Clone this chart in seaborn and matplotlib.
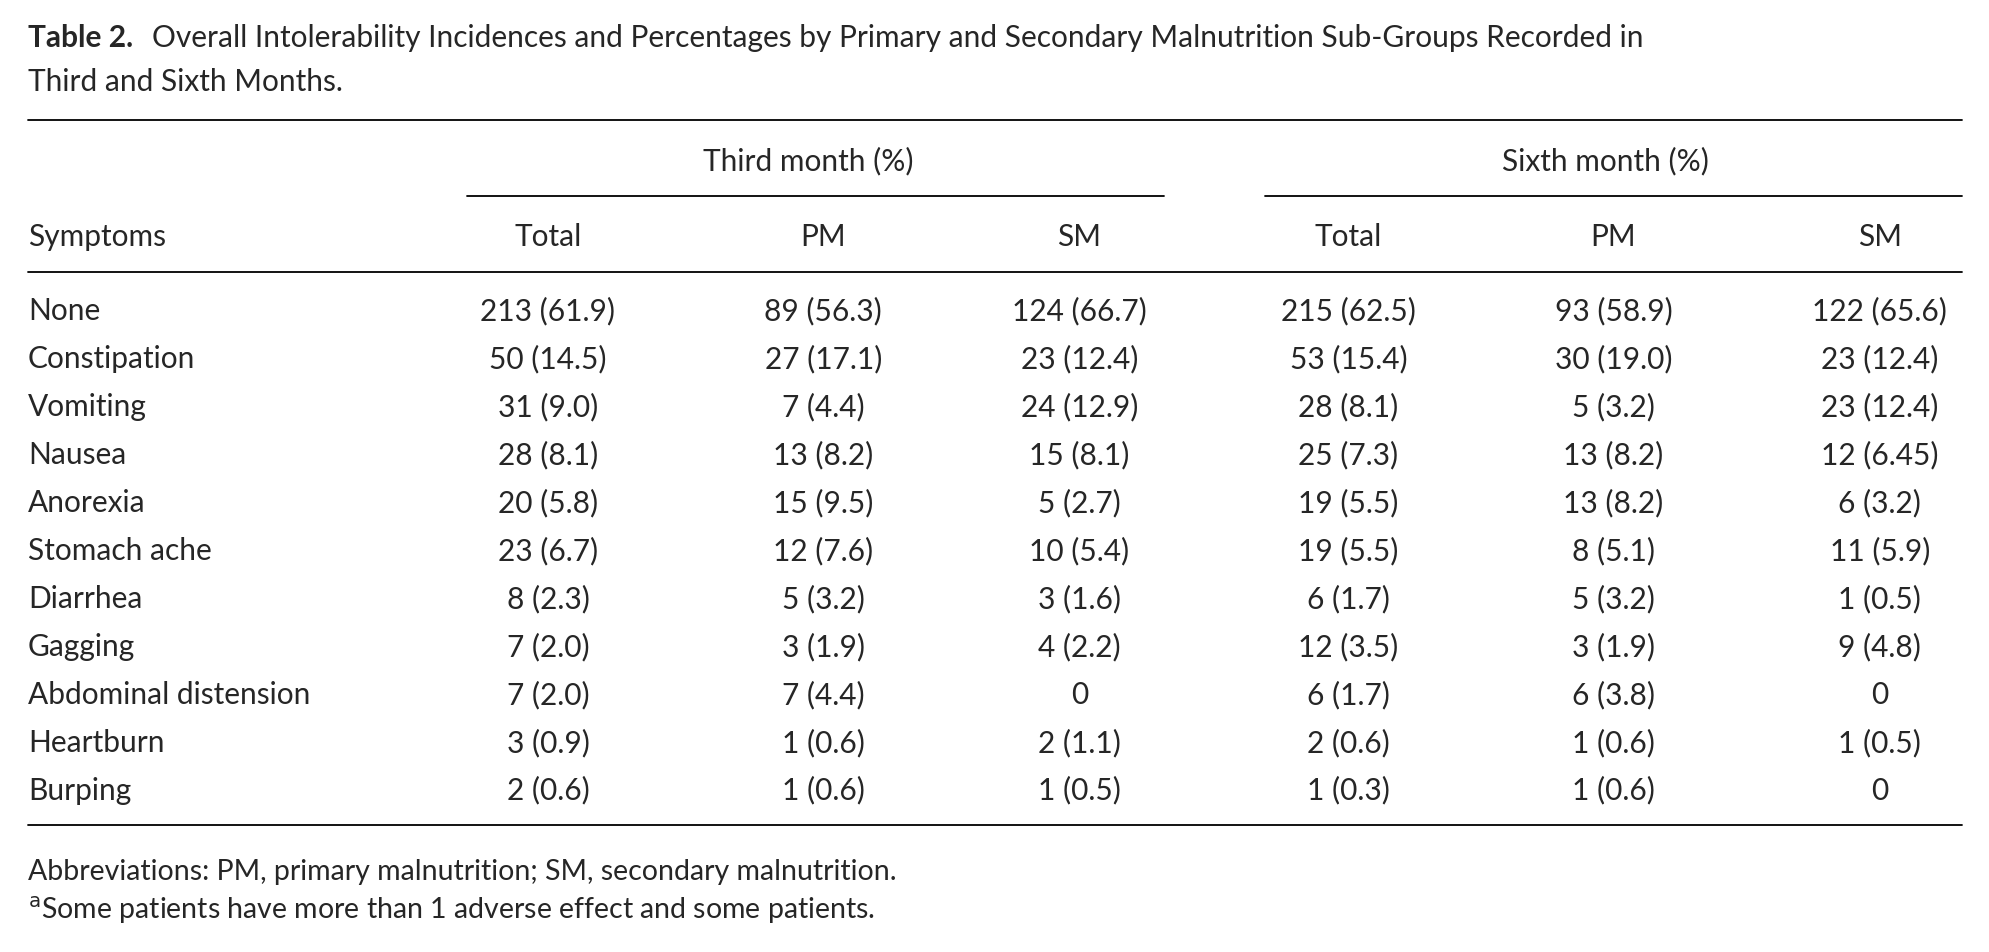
import seaborn as sns
import matplotlib.pyplot as plt

sns.set_theme(style="white")
plt.rcParams['font.family'] = ['Lato', 'DejaVu Sans']

symptoms = ['None', 'Constipation', 'Vomiting', 'Nausea', 'Anorexia', 'Stomach ache',
            'Diarrhea', 'Gagging', 'Abdominal distension', 'Heartburn', 'Burping']
third_total = ['213 (61.9)', '50 (14.5)', '31 (9.0)', '28 (8.1)', '20 (5.8)', '23 (6.7)',
               '8 (2.3)', '7 (2.0)', '7 (2.0)', '3 (0.9)', '2 (0.6)']
third_pm = ['89 (56.3)', '27 (17.1)', '7 (4.4)', '13 (8.2)', '15 (9.5)', '12 (7.6)',
            '5 (3.2)', '3 (1.9)', '7 (4.4)', '1 (0.6)', '1 (0.6)']
third_sm = ['124 (66.7)', '23 (12.4)', '24 (12.9)', '15 (8.1)', '5 (2.7)', '10 (5.4)',
            '3 (1.6)', '4 (2.2)', '0', '2 (1.1)', '1 (0.5)']
sixth_total = ['215 (62.5)', '53 (15.4)', '28 (8.1)', '25 (7.3)', '19 (5.5)', '19 (5.5)',
               '6 (1.7)', '12 (3.5)', '6 (1.7)', '2 (0.6)', '1 (0.3)']
sixth_pm = ['93 (58.9)', '30 (19.0)', '5 (3.2)', '13 (8.2)', '13 (8.2)', '8 (5.1)',
            '5 (3.2)', '3 (1.9)', '6 (3.8)', '1 (0.6)', '1 (0.6)']
sixth_sm = ['122 (65.6)', '23 (12.4)', '23 (12.4)', '12 (6.45)', '6 (3.2)', '11 (5.9)',
            '1 (0.5)', '9 (4.8)', '0', '1 (0.5)', '0']
columns = [third_total, third_pm, third_sm, sixth_total, sixth_pm, sixth_sm]
col_x = [432, 649, 851, 1063, 1272, 1482]

W, H = 1568, 751
fig = plt.figure(figsize=(19.89, 9.53), dpi=100)
ax = fig.add_axes([0, 0, 1, 1])
ax.set_xlim(0, W)
ax.set_ylim(H, 0)
ax.axis('off')

fs = 21.5
ax.text(22, 30, 'Table 2.', fontsize=fs, va='center', ha='left', fontweight='bold')
ax.text(120, 30, 'Overall Intolerability Incidences and Percentages by Primary and Secondary Malnutrition Sub-Groups Recorded in',
        fontsize=fs, va='center', ha='left')
ax.text(22, 65, 'Third and Sixth Months.', fontsize=fs, va='center')

kw = dict(color='black', lw=1.3)
ax.plot([22, 1547], [95, 95], **kw)
ax.plot([368, 918], [155, 155], **kw)
ax.plot([997, 1547], [155, 155], **kw)
ax.plot([22, 1547], [215, 215], **kw)
ax.plot([22, 1547], [651, 651], **kw)

ax.text(637, 127, 'Third month (%)', fontsize=fs, ha='center', va='center')
ax.text(1266, 127, 'Sixth month (%)', fontsize=fs, ha='center', va='center')
ax.text(22, 187, 'Symptoms', fontsize=fs, va='center')
for x, h in zip(col_x, ['Total', 'PM', 'SM', 'Total', 'PM', 'SM']):
    ax.text(x, 187, h, fontsize=fs, ha='center', va='center')

for i, s in enumerate(symptoms):
    y = 245 + i * 37.8
    ax.text(22, y, s, fontsize=fs, va='center')
    for x, col in zip(col_x, columns):
        ax.text(x, y, col[i], fontsize=fs, ha='center', va='center')

ax.text(22, 687, 'Abbreviations: PM, primary malnutrition; SM, secondary malnutrition.', fontsize=fs - 1, va='center')
ax.text(22, 717, r'$^{\rm a}$Some patients have more than 1 adverse effect and some patients.', fontsize=fs - 1, va='center')

fig.savefig('out.png', dpi=100)
